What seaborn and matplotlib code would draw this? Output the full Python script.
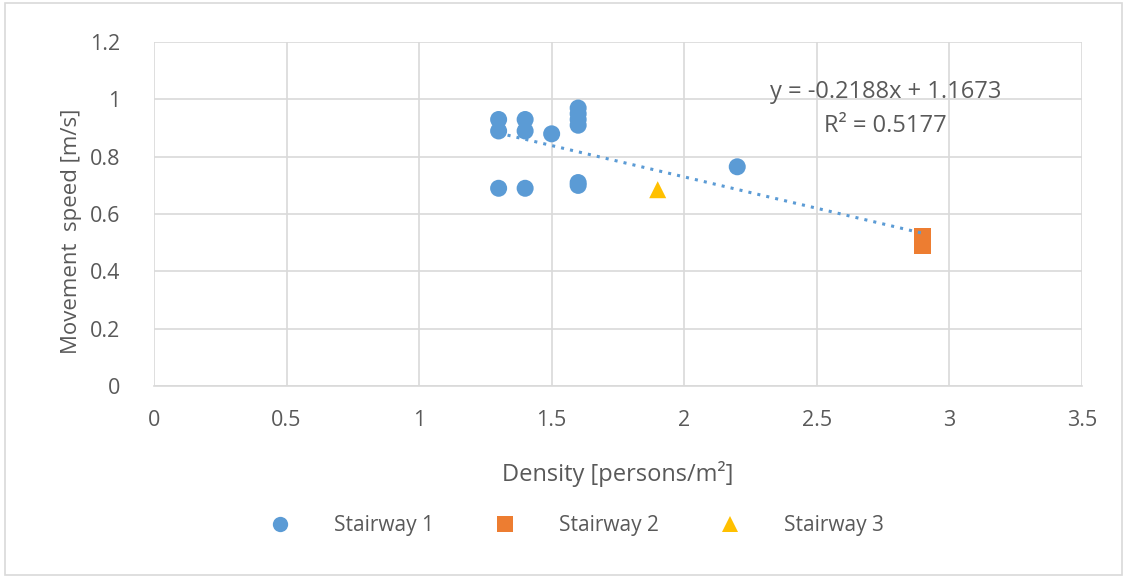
import numpy as np
import matplotlib.pyplot as plt
import seaborn as sns
import pandas as pd

# data
s1_density = [1.3, 1.3, 1.3, 1.4, 1.4, 1.4, 1.5, 1.6, 1.6, 1.6, 1.6, 1.6, 1.6, 2.2]
s1_speed = [0.93, 0.89, 0.69, 0.93, 0.89, 0.69, 0.88, 0.97, 0.95, 0.93, 0.91, 0.71, 0.70, 0.765]
s2_density = [2.9, 2.9]
s2_speed = [0.52, 0.49]
s3_density = [1.9]
s3_speed = [0.685]
slope = -0.2188
intercept = 1.1673
r2 = 0.5177

df = pd.concat([
    pd.DataFrame({'Density': s1_density, 'Speed': s1_speed, 'Series': 'Stairway 1'}),
    pd.DataFrame({'Density': s2_density, 'Speed': s2_speed, 'Series': 'Stairway 2'}),
    pd.DataFrame({'Density': s3_density, 'Speed': s3_speed, 'Series': 'Stairway 3'}),
])

sns.set_style('white')
plt.rcParams['font.family'] = ['Open Sans', 'DejaVu Sans']
txt = '#595959'

fig = plt.figure(figsize=(11.27, 5.77), dpi=100)
ax = fig.add_axes([0.1366, 0.331, 0.8234, 0.596])

palette = {'Stairway 1': '#5B9BD5', 'Stairway 2': '#ED7D31', 'Stairway 3': '#FFC000'}
markers = {'Stairway 1': 'o', 'Stairway 2': 's', 'Stairway 3': '^'}
sns.scatterplot(data=df, x='Density', y='Speed', hue='Series', style='Series',
                palette=palette, markers=markers, s=150, linewidth=0, ax=ax, zorder=3)

# trendline
all_x = df['Density']
tx = np.array([all_x.min(), all_x.max()])
ax.plot(tx, slope * tx + intercept, ls=(0, (1, 2)), color='#5B9BD5', lw=2.2, zorder=4)
ax.text(2.76, 1.025, f'y = {slope}x + {intercept}', ha='center', va='center', fontsize=17, color=txt)
ax.text(2.76, 0.907, f'R² = {r2}', ha='center', va='center', fontsize=17, color=txt)

ax.set_xlim(0, 3.5)
ax.set_ylim(0, 1.2)
ax.set_xticks(np.arange(0, 3.51, 0.5))
ax.set_xticklabels(['0', '0.5', '1', '1.5', '2', '2.5', '3', '3.5'])
ax.set_yticks(np.arange(0, 1.21, 0.2))
ax.set_yticklabels(['0', '0.2', '0.4', '0.6', '0.8', '1', '1.2'])
ax.grid(True, color='#D9D9D9', lw=1.2)
ax.set_axisbelow(True)
for side in ['top', 'right', 'left']:
    ax.spines[side].set_visible(False)
ax.spines['bottom'].set_color('#D9D9D9')
ax.spines['bottom'].set_linewidth(1.2)
ax.tick_params(axis='both', length=0, labelsize=15.5, labelcolor=txt)
ax.tick_params(axis='x', pad=17)
ax.tick_params(axis='y', pad=24)

ax.set_xlabel('Density [persons/m²]', fontsize=17, color=txt, labelpad=22)
ax.set_ylabel('Movement  speed [m/s]', fontsize=16, color=txt)
ax.yaxis.set_label_coords(-0.078, 0.45)

ax.legend(loc='upper center', bbox_to_anchor=(0.45, -0.32), ncol=3, frameon=False,
          fontsize=15, labelcolor=txt, handletextpad=1.6, columnspacing=2.4, markerscale=0.9)

fig.patches.append(plt.Rectangle((0.004, 0.004), 0.992, 0.99, transform=fig.transFigure,
                                 fill=False, edgecolor='#D9D9D9', lw=1.2))

fig.savefig('out.png', dpi=100)
